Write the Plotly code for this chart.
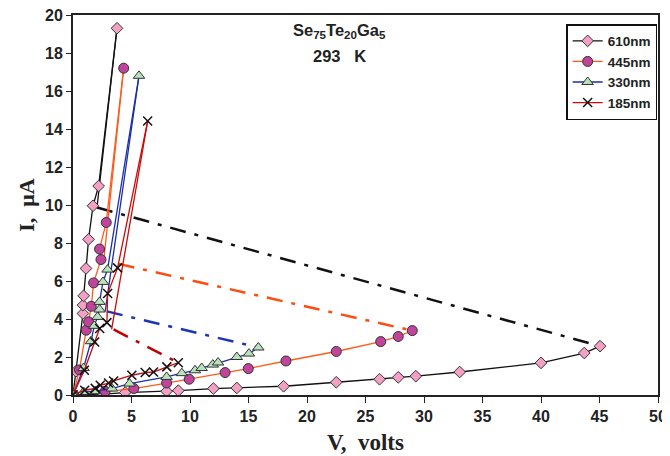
import plotly.graph_objects as go

# ---- data (V in volts, I in microamps) ----
series_names = ["610nm", "445nm", "330nm", "185nm"]

# steep (high-current) branch, rising
v610_hi = [0, 0.25, 0.85, 0.85, 0.91, 1.11, 1.33, 1.71, 2.19, 3.76]
i610_hi = [0, 1.25, 4.29, 4.73, 5.22, 6.66, 8.19, 9.96, 11.0, 19.3]
v445_hi = [0, 0.55, 1.13, 1.33, 1.56, 1.76, 2.39, 2.27, 2.84, 4.33]
i445_hi = [0, 1.32, 3.41, 3.85, 4.67, 5.9, 7.13, 7.68, 9.08, 17.2]
v330_hi = [0, 0.9, 1.54, 1.82, 2.1, 2.27, 2.27, 2.56, 2.95, 5.64]
i330_hi = [0, 1.42, 2.83, 3.64, 4.11, 4.5, 4.9, 5.95, 6.6, 16.8]
v185_hi = [0, 0.97, 1.85, 2.28, 2.9, 2.96, 3.81, 6.38]
i185_hi = [0, 1.3, 2.79, 3.5, 3.81, 5.34, 6.69, 14.42]

# return line from the top of the steep branch
v610_ret = [3.76, 2.05]
i610_ret = [19.3, 9.87]
v445_ret = [4.33, 2.6]
i445_ret = [17.2, 6.9]
v330_ret = [5.64, 2.75]
i330_ret = [16.8, 4.4]
v185_ret = [6.38, 3.3]
i185_ret = [14.42, 3.45]

# low-current branch
v610_lo = [0, 2.6, 4.46, 8.0, 9.0, 12.0, 14.0, 18.0, 22.5, 26.2, 27.8, 29.3, 33.05, 40.0, 43.7, 45.05]
i610_lo = [0, 0.05, 0.13, 0.2, 0.23, 0.34, 0.37, 0.46, 0.67, 0.83, 0.93, 0.99, 1.21, 1.69, 2.21, 2.57]
v445_lo = [0, 2.75, 5.2, 8.0, 9.93, 13.0, 14.98, 18.2, 22.5, 26.3, 27.8, 29.0]
i445_lo = [0, 0.2, 0.34, 0.63, 0.83, 1.18, 1.39, 1.79, 2.29, 2.81, 3.08, 3.39]
v330_lo = [0, 0.9, 1.9, 3.33, 4.83, 8.0, 9.3, 10.43, 11.0, 11.95, 12.4, 14.0, 15.04, 15.84]
i330_lo = [0, 0.16, 0.2, 0.34, 0.6, 0.95, 1.15, 1.3, 1.42, 1.6, 1.71, 2.0, 2.18, 2.5]
v185_lo = [0, 1.0, 1.9, 2.33, 3.04, 3.47, 5.03, 6.17, 6.88, 8.02, 9.0]
i185_lo = [0, 0.25, 0.35, 0.51, 0.63, 0.74, 1.04, 1.18, 1.21, 1.48, 1.7]

# switching (dash-dot) transitions
v610_sw = [2.05, 45.05]
i610_sw = [9.87, 2.57]
v445_sw = [3.9, 29.0]
i445_sw = [6.9, 3.39]
v330_sw = [2.9, 15.84]
i330_sw = [4.4, 2.5]
v185_sw = [3.47, 9.0]
i185_sw = [3.45, 1.7]

x_ticks = [0, 5, 10, 15, 20, 25, 30, 35, 40, 45, 50]
y_ticks = [0, 2, 4, 6, 8, 10, 12, 14, 16, 18, 20]

# ---- styles ----
line_colors = ["#111111", "#FF5A1A", "#1C2FA8", "#CC0A0A"]
dash_colors = ["#111111", "#FF4A10", "#1C35B8", "#C00000"]
markers = [
    dict(symbol="diamond", size=9, color="#F4A0C4", line=dict(color="#333333", width=1)),
    dict(symbol="circle", size=10, color="#C0449A", line=dict(color="#333333", width=1)),
    dict(symbol="triangle-up", size=10, color="#B8E2BC", line=dict(color="#333333", width=1)),
    dict(symbol="x-thin", size=9, color="#111111", line=dict(color="#111111", width=1.5)),
]

hi = [(v610_hi, i610_hi), (v445_hi, i445_hi), (v330_hi, i330_hi), (v185_hi, i185_hi)]
ret = [(v610_ret, i610_ret), (v445_ret, i445_ret), (v330_ret, i330_ret), (v185_ret, i185_ret)]
lo = [(v610_lo, i610_lo), (v445_lo, i445_lo), (v330_lo, i330_lo), (v185_lo, i185_lo)]
sw = [(v610_sw, i610_sw), (v445_sw, i445_sw), (v330_sw, i330_sw), (v185_sw, i185_sw)]

fig = go.Figure()

for k in range(4):
    fig.add_trace(go.Scatter(x=sw[k][0], y=sw[k][1], mode="lines",
                             line=dict(color=dash_colors[k], width=2.5, dash="16px,9px,4px,9px"),
                             showlegend=False, hoverinfo="skip"))

for k in range(4):
    fig.add_trace(go.Scatter(x=ret[k][0], y=ret[k][1], mode="lines",
                             line=dict(color=line_colors[k], width=1.3),
                             showlegend=False, legendgroup=series_names[k]))
    fig.add_trace(go.Scatter(x=lo[k][0], y=lo[k][1], mode="lines+markers",
                             line=dict(color=line_colors[k], width=1.3),
                             marker=markers[k], showlegend=False, legendgroup=series_names[k]))

for k in range(4):
    fig.add_trace(go.Scatter(x=hi[k][0], y=hi[k][1], mode="lines+markers", name=series_names[k],
                             line=dict(color=line_colors[k], width=1.3),
                             marker=markers[k], legendgroup=series_names[k]))

fig.update_layout(
    width=662, height=448,
    margin=dict(l=65, r=12, t=7, b=61, autoexpand=False),
    paper_bgcolor="white", plot_bgcolor="white",
    font=dict(family="Liberation Sans, Arial", size=14, color="#222222"),
    legend=dict(x=0.843, y=0.976, xanchor="left", yanchor="top",
                bordercolor="#111111", borderwidth=1.5, bgcolor="white",
                font=dict(family="Liberation Sans, Arial", size=13.5, color="#222222", weight="bold"),
                itemwidth=30, tracegroupgap=0),
    annotations=[
        dict(x=0.456, y=0.958, xref="paper", yref="paper", showarrow=False,
             text="<b>Se<sub>75</sub>Te<sub>20</sub>Ga<sub>5</sub></b>",
             font=dict(family="Liberation Sans, Arial", size=16.5, color="#222222"),
             xanchor="center", yanchor="middle"),
        dict(x=0.456, y=0.892, xref="paper", yref="paper", showarrow=False,
             text="<b>293&nbsp;&nbsp;&nbsp;K</b>",
             font=dict(family="Liberation Sans, Arial", size=16.5, color="#222222"),
             xanchor="center", yanchor="middle"),
    ],
)

fig.update_xaxes(range=[0, 50], tickvals=x_ticks, ticktext=[str(t) for t in x_ticks],
                 automargin=False, ticklabeloverflow="allow",
                 showgrid=False, zeroline=False, showline=True, linecolor="#222222", linewidth=2,
                 mirror=True, ticks="outside", ticklen=6, tickcolor="#222222",
                 tickfont=dict(family="Liberation Sans, Arial", size=16, color="#222222", weight="bold"),
                 title=dict(text="<b>V,  volts</b>", standoff=10,
                            font=dict(family="Liberation Serif, Times New Roman", size=23, color="#222222")))
fig.update_yaxes(range=[0, 20], tickvals=y_ticks, ticktext=[str(t) for t in y_ticks],
                 automargin=False, ticklabeloverflow="allow",
                 showgrid=False, zeroline=False, showline=True, linecolor="#222222", linewidth=2,
                 mirror=True, ticks="outside", ticklen=5, tickcolor="#222222",
                 tickfont=dict(family="Liberation Sans, Arial", size=16, color="#222222", weight="bold"),
                 title=dict(text="<b>I,  μA</b>", standoff=4,
                            font=dict(family="Liberation Serif, Times New Roman", size=22, color="#222222")))

fig.write_html("out.html")
